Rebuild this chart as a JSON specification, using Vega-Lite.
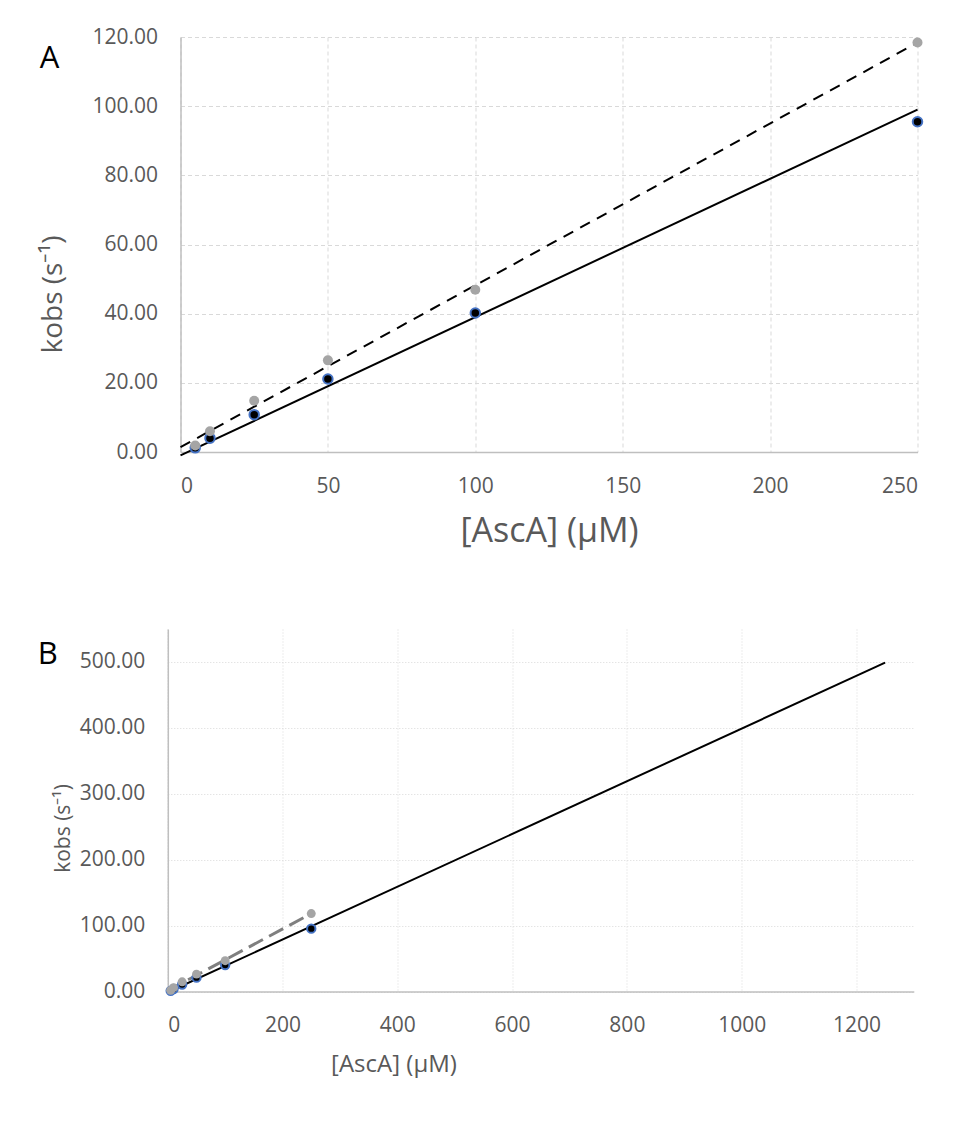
{
  "$schema": "https://vega.github.io/schema/vega-lite/v6.json",
  "background": "white",
  "padding": {"left": 37.5, "top": 26, "right": 0, "bottom": 12},
  "spacing": 80,
  "config": {
    "view": {"stroke": null},
    "font": "Open Sans",
    "axis": {
      "labelFont": "Open Sans",
      "titleFont": "Open Sans",
      "labelColor": "#595959",
      "titleColor": "#595959",
      "titleFontWeight": "normal",
      "ticks": false,
      "domainColor": "#bfbfbf",
      "domainWidth": 1.5,
      "gridColor": "#d9d9d9",
      "gridWidth": 1,
      "labelPadding": 23,
      "labelFontSize": 21
    }
  },
  "datasets": {
    "blk": [
      {"c": 5, "k": 1.2},
      {"c": 10, "k": 4.0},
      {"c": 25, "k": 10.8},
      {"c": 50, "k": 21.1},
      {"c": 100, "k": 40.2},
      {"c": 250, "k": 95.5}
    ],
    "gry": [
      {"c": 5, "k": 1.9},
      {"c": 10, "k": 6.0},
      {"c": 25, "k": 14.8},
      {"c": 50, "k": 26.5},
      {"c": 100, "k": 46.9},
      {"c": 250, "k": 118.4}
    ],
    "fitA": [
      {"c": 0, "k": -1.0},
      {"c": 250, "k": 99.0}
    ],
    "fitB": [
      {"c": 0, "k": -1.0},
      {"c": 1250, "k": 499.0}
    ],
    "fitGray": [
      {"c": 0, "k": 1.4},
      {"c": 250, "k": 118.4}
    ]
  },
  "vconcat": [
    {
      "width": 737,
      "height": 415,
      "title": {
        "text": "A",
        "anchor": "start",
        "frame": "group",
        "fontSize": 31,
        "fontWeight": "normal",
        "font": "Open Sans",
        "color": "black",
        "baseline": "alphabetic",
        "offset": 0,
        "dx": -140.7,
        "dy": 72.7
      },
      "encoding": {
        "x": {
          "field": "c",
          "type": "quantitative",
          "scale": {"domain": [0, 250], "nice": false, "zero": false},
          "axis": {
            "values": [0, 50, 100, 150, 200, 250],
            "gridDash": [4, 3],
            "title": "[AscA] (μM)",
            "titleFontSize": 34,
            "titleBaseline": "alphabetic",
            "titleY": 89.4
          }
        },
        "y": {
          "field": "k",
          "type": "quantitative",
          "scale": {"domain": [0, 120], "nice": false, "zero": false},
          "axis": {
            "values": [0, 20, 40, 60, 80, 100, 120],
            "format": ".2f",
            "gridDash": [4, 3],
            "title": "kobs (s⁻¹)",
            "titleFontSize": 28,
            "titleBaseline": "alphabetic",
            "titleX": -119.4,
            "titleY": 257
          }
        }
      },
      "layer": [
        {"data": {"name": "fitA"}, "mark": {"type": "line", "color": "black", "strokeWidth": 2, "clip": false}},
        {"data": {"name": "fitGray"}, "mark": {"type": "line", "color": "black", "strokeWidth": 2, "strokeDash": [11, 8]}},
        {"data": {"name": "blk"}, "mark": {"type": "point", "shape": "circle", "filled": true, "fill": "black", "stroke": "#4472c4", "strokeWidth": 2, "size": 90, "opacity": 1}},
        {"data": {"name": "gry"}, "mark": {"type": "point", "shape": "circle", "filled": true, "color": "#a5a5a5", "size": 100, "opacity": 1}}
      ]
    },
    {
      "width": 733.3,
      "height": 362.6,
      "title": {
        "text": "B",
        "anchor": "start",
        "frame": "group",
        "fontSize": 31,
        "fontWeight": "normal",
        "font": "Open Sans",
        "color": "black",
        "baseline": "alphabetic",
        "offset": 0,
        "dx": -142.7,
        "dy": 66.3
      },
      "encoding": {
        "x": {
          "field": "c",
          "type": "quantitative",
          "scale": {"domain": [0, 1300], "nice": false, "zero": false, "range": [-12.7, 733.3]},
          "axis": {
            "values": [0, 200, 400, 600, 800, 1000, 1200],
            "format": "d",
            "gridDash": [1, 2],
            "title": "[AscA] (μM)",
            "titleFontSize": 24,
            "titleBaseline": "alphabetic",
            "titleX": 213,
            "titleY": 80
          }
        },
        "y": {
          "field": "k",
          "type": "quantitative",
          "scale": {"domain": [0, 550], "nice": false, "zero": false},
          "axis": {
            "offset": 12.7,
            "values": [0, 100, 200, 300, 400, 500],
            "format": ".2f",
            "gridDash": [1, 2],
            "title": "kobs (s⁻¹)",
            "titleFontSize": 21,
            "titleBaseline": "alphabetic",
            "titleX": -98,
            "titleY": 199
          }
        }
      },
      "layer": [
        {"data": {"name": "fitB"}, "mark": {"type": "line", "color": "black", "strokeWidth": 2}},
        {"data": {"name": "fitGray"}, "mark": {"type": "line", "color": "#7f7f7f", "strokeWidth": 3, "strokeDash": [16, 7]}},
        {"data": {"name": "blk"}, "mark": {"type": "point", "shape": "circle", "filled": true, "fill": "black", "stroke": "#4472c4", "strokeWidth": 2, "size": 70, "opacity": 1}},
        {"data": {"name": "gry"}, "mark": {"type": "point", "shape": "circle", "filled": true, "color": "#a5a5a5", "size": 80, "opacity": 1}}
      ]
    }
  ]
}
